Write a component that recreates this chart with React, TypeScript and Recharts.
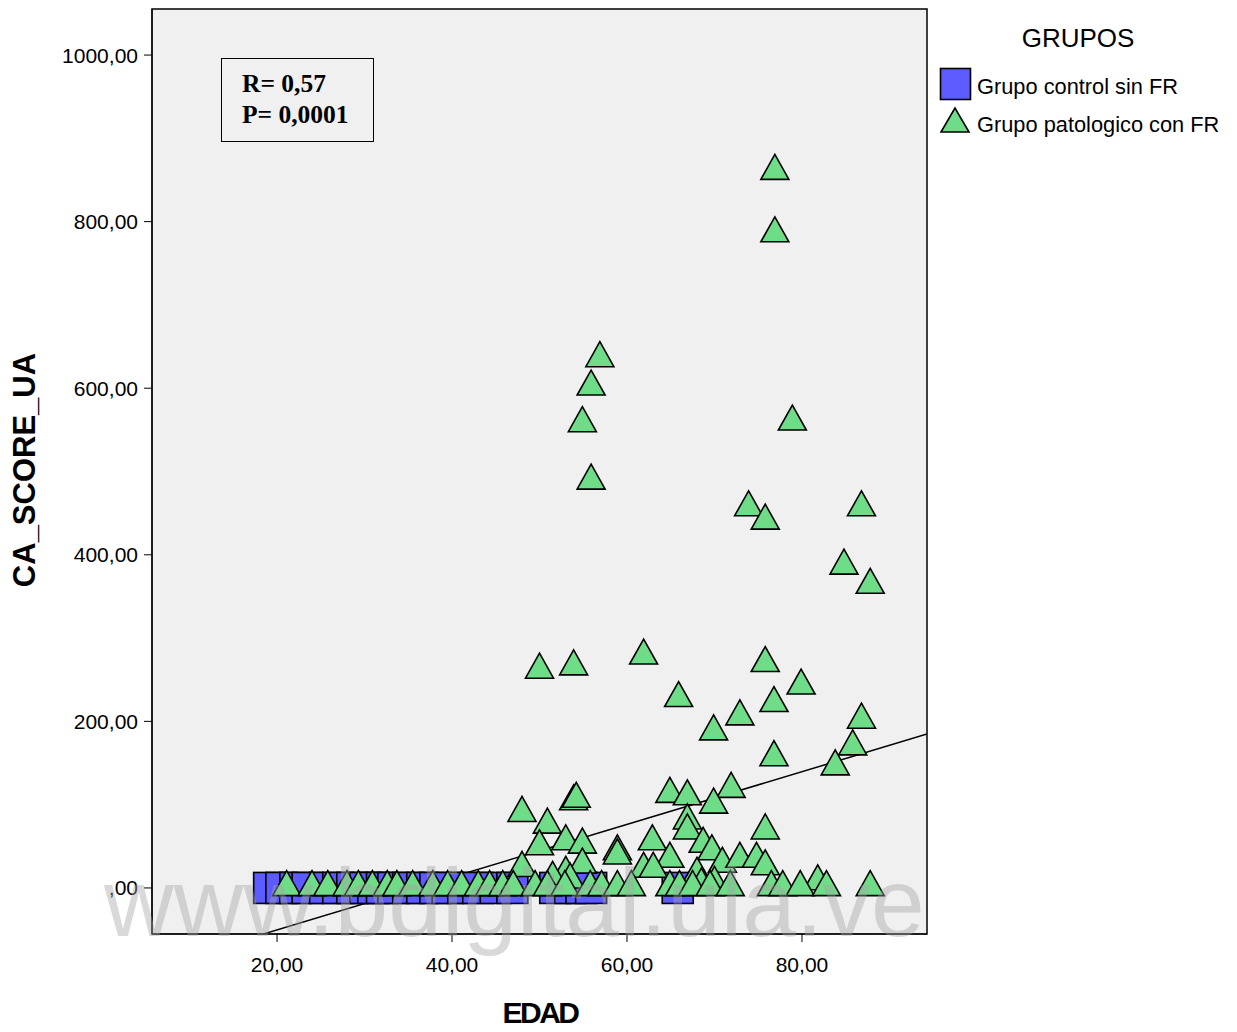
import React from 'react';
import {
  ScatterChart,
  Scatter,
  XAxis,
  YAxis,
  ReferenceArea,
  ReferenceLine,
} from 'recharts';

// EDAD / CA_SCORE_UA
const controlAges = [19.1, 20.5, 22.1, 23.5, 25.5, 27, 28.6, 30.1, 31, 32, 33.3, 35, 36.6, 38.1, 39.5, 41.3, 43, 45, 46.9, 51.8, 53.5, 54.8, 55.9, 65.8];
const controlScores = [0, 0, 0, 0, 0, 0, 0, 0, 0, 0, 0, 0, 0, 0, 0, 0, 0, 0, 0, 0, 0, 0, 0, 0];

const patAges = [
  76.9, 76.9, 56.9, 55.9, 54.9, 55.9, 78.9, 73.9, 75.8, 86.8, 84.8, 87.8,
  50.0, 53.9, 61.9, 65.9,
  75.8, 79.9, 76.8, 72.9, 69.9, 86.8, 85.8, 76.8, 83.8, 71.9, 69.9,
  64.9, 66.9, 66.9, 66.9,
  53.9, 54.2, 48.0, 50.9, 50.0, 53.0, 54.9, 54.9, 48.0, 53.0,
  58.9, 58.9, 62.9, 64.9, 61.9, 63.0,
  75.8, 68.7, 69.7, 70.9, 72.9, 74.8, 75.8, 68.0, 81.8, 51.5, 53.5, 68.5, 70,
  21.1, 24, 25.8, 28, 29.3, 30.9, 32.6, 33.7, 35.5, 37.8, 39.5, 41.1, 43, 44.3, 45.8, 47, 49.5,
  50.9, 52.9, 55.8, 57.1, 58.9, 60.5, 64.9, 66, 67.5, 69.5, 71.8, 76.5, 77.8, 79.8, 82.8, 87.8,
];
const patScores = [
  861, 786, 636, 602, 558, 489, 560, 457, 441, 457, 387, 364,
  262, 266, 279, 228,
  270, 243, 222, 206, 188, 202, 170, 157, 146, 119, 100,
  113, 110, 81, 69,
  104, 107, 90, 76, 50, 56, 52, 28, 24, 18,
  44, 39, 56, 35, 23, 23,
  69, 53, 44, 29, 35, 35, 26, 17, 8, 12, 10, 4, 6,
  1, 1, 1, 1, 1, 1, 1, 1, 1, 1, 1, 1, 1, 1, 1, 1, 1,
  1, 1, 1, 1, 1, 1, 1, 1, 1, 1, 1, 1, 1, 1, 1, 1,
];

const xTicks = [20, 40, 60, 80];
const yTicks = [0, 200, 400, 600, 800, 1000];
const xDomain = [5.71, 94.29];
const yDomain = [-55.3, 1055.3];

// linear fit shown on the plot
const fitIntercept = -113.7;
const fitSlope = 3.166;

const controlData = controlAges.map((x, i) => ({ x, y: controlScores[i] }));
const patData = patAges.map((x, i) => ({ x, y: patScores[i] }));

const fmt = (v: number) => (v === 0 ? ',00' : v.toFixed(2).replace('.', ','));

const SQUARE_FILL = '#5b5bff';
const TRI_FILL = '#6fdd87';

const Square = (props: any) => {
  const { cx, cy } = props;
  return <rect x={cx - 15.5} y={cy - 15.5} width={31} height={31} fill={SQUARE_FILL} stroke="#000" strokeWidth={1.6} />;
};

const Triangle = (props: any) => {
  const { cx, cy } = props;
  const pts = `${cx},${cy - 16.5} ${cx - 14},${cy + 8.5} ${cx + 14},${cy + 8.5}`;
  return <polygon points={pts} fill={TRI_FILL} stroke="#000" strokeWidth={1.6} strokeLinejoin="miter" />;
};

const tickStyle = { fill: '#000', fontSize: 21, fontFamily: 'Liberation Sans, Arial, sans-serif' };

export default function App() {
  return (
    <div style={{ position: 'absolute', left: 0, top: 0, width: 1237, height: 1032, background: '#fff', fontFamily: 'Liberation Sans, Arial, sans-serif' }}>
      <ScatterChart width={1237} height={1032} margin={{ top: 9, right: 310, bottom: 48, left: 52 }}>
        <XAxis
          type="number"
          dataKey="x"
          domain={xDomain}
          allowDataOverflow
          ticks={xTicks}
          tickFormatter={fmt}
          tick={tickStyle}
          tickSize={8}
          tickMargin={15}
          height={50}
          axisLine={{ stroke: '#000' }}
          tickLine={{ stroke: '#000' }}
        />
        <YAxis
          type="number"
          dataKey="y"
          domain={yDomain}
          allowDataOverflow
          ticks={yTicks}
          tickFormatter={fmt}
          tick={tickStyle}
          tickSize={8}
          tickMargin={6}
          width={100}
          axisLine={{ stroke: '#000' }}
          tickLine={{ stroke: '#000' }}
        />
        <ReferenceArea
          x1={xDomain[0]}
          x2={xDomain[1]}
          y1={yDomain[0]}
          y2={yDomain[1]}
          fill="#f0f0f0"
          fillOpacity={1}
          stroke="#000"
          strokeWidth={1.5}
          ifOverflow="visible"
        />
        <Scatter data={controlData} shape={Square} isAnimationActive={false} />
        <Scatter data={patData} shape={Triangle} isAnimationActive={false} />
        <ReferenceLine
          segment={[
            { x: xDomain[0], y: fitIntercept + fitSlope * xDomain[0] },
            { x: xDomain[1], y: fitIntercept + fitSlope * xDomain[1] },
          ]}
          stroke="#000"
          strokeWidth={1.5}
          ifOverflow="hidden"
        />
      </ScatterChart>

      {/* stats box */}
      <div style={{ position: 'absolute', left: 221, top: 58, width: 153, height: 84, border: '1.5px solid #000', fontFamily: 'Liberation Serif, Times New Roman, serif', fontWeight: 'bold', fontSize: 25.5, lineHeight: '31px', paddingLeft: 20, paddingTop: 9, boxSizing: 'border-box' }}>
        <div>R= 0,57</div>
        <div>P= 0,0001</div>
      </div>

      {/* legend */}
      <div style={{ position: 'absolute', left: 1078, top: 38, transform: 'translate(-50%, -50%)', fontSize: 26 }}>GRUPOS</div>
      <svg style={{ position: 'absolute', left: 936, top: 64 }} width={40} height={72}>
        <rect x={4.5} y={4.5} width={30} height={31} fill={SQUARE_FILL} stroke="#000" strokeWidth={1.6} />
        <polygon points="19,44 5,68 33,68" fill={TRI_FILL} stroke="#000" strokeWidth={1.6} />
      </svg>
      <div style={{ position: 'absolute', left: 977, top: 87, transform: 'translateY(-50%)', fontSize: 21.8, whiteSpace: 'nowrap' }}>Grupo control sin FR</div>
      <div style={{ position: 'absolute', left: 977, top: 125, transform: 'translateY(-50%)', fontSize: 21.8, whiteSpace: 'nowrap' }}>Grupo patologico con FR</div>

      {/* axis titles */}
      <div style={{ position: 'absolute', left: 540, top: 1013, transform: 'translate(-50%, -50%)', fontSize: 30, fontWeight: 'bold', letterSpacing: -2.5 }}>EDAD</div>
      <div style={{ position: 'absolute', left: 25, top: 470, transform: 'translate(-50%, -50%) rotate(-90deg)', fontSize: 31, fontWeight: 'bold', whiteSpace: 'nowrap' }}>CA_SCORE_UA</div>

      {/* watermark */}
      <div style={{ position: 'absolute', left: 104, top: 848, fontSize: 96.5, lineHeight: '110px', color: 'rgba(165,165,165,0.42)', whiteSpace: 'nowrap', pointerEvents: 'none' }}>www.bdigital.ula.ve</div>
    </div>
  );
}
